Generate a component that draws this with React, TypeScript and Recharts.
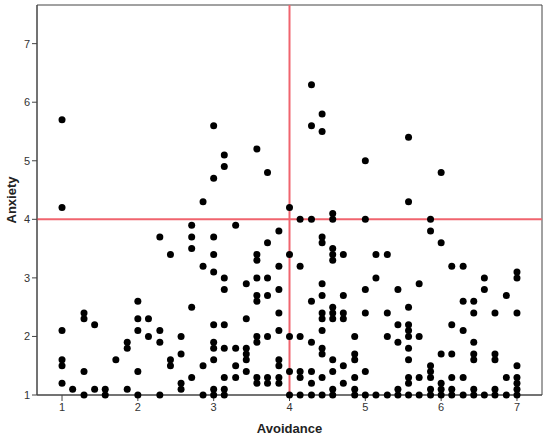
import { ScatterChart, Scatter, XAxis, YAxis, ReferenceLine, ReferenceArea } from 'recharts';

// avoidance scores (columns of the scatter, steps of 1/7)
const avoidance = [
  1, 1.14, 1.29, 1.43, 1.57, 1.71, 1.86, 2, 2.14, 2.29, 2.43, 2.57, 2.71, 2.86,
  3, 3.14, 3.29, 3.43, 3.57, 3.71, 3.86, 4, 4.14, 4.29, 4.43, 4.57, 4.71, 4.86,
  5, 5.14, 5.29, 5.43, 5.57, 5.71, 5.86, 6, 6.14, 6.29, 6.43, 6.57, 6.71, 6.86, 7,
];

// anxiety scores observed at each avoidance column
const anxiety: number[][] = [
  [5.7, 4.2, 2.1, 1.6, 1.5, 1.2],
  [1.1],
  [2.4, 2.3, 1.4, 1.0],
  [2.2, 1.1],
  [1.1, 1.0],
  [1.6],
  [1.9, 1.8, 1.1],
  [2.6, 2.3, 2.1, 1.4, 1.0],
  [2.3, 2.0],
  [3.7, 2.1, 1.9, 1.0],
  [3.4, 1.6, 1.5],
  [2.0, 1.7, 1.2, 1.1],
  [3.9, 3.7, 3.5, 2.5, 1.3],
  [4.3, 3.2, 1.5, 1.0],
  [5.6, 4.7, 3.7, 3.4, 3.1, 2.2, 1.9, 1.8, 1.6, 1.1, 1.0],
  [5.1, 4.9, 3.0, 2.8, 2.2, 1.8, 1.3, 1.1, 1.0],
  [3.9, 1.8, 1.5, 1.3],
  [2.9, 2.3, 1.8, 1.7, 1.6, 1.4],
  [5.2, 3.4, 3.3, 3.0, 2.7, 2.6, 2.0, 1.9, 1.3, 1.2],
  [4.8, 3.6, 3.0, 2.7, 2.0, 1.3, 1.2],
  [3.8, 3.2, 2.8, 2.4, 2.1, 1.6, 1.5, 1.3, 1.2],
  [4.2, 3.4, 2.0, 1.4, 1.0],
  [4.0, 3.2, 2.0, 1.4, 1.3, 1.0],
  [6.3, 5.6, 4.0, 2.6, 1.9, 1.4, 1.2, 1.0],
  [5.8, 5.5, 3.7, 3.6, 2.9, 2.7, 2.4, 2.3, 2.1, 1.8, 1.7, 1.3, 1.0],
  [4.1, 4.0, 3.5, 3.4, 3.3, 2.5, 2.4, 2.3, 1.6, 1.4, 1.1, 1.0],
  [3.4, 2.7, 2.4, 2.3, 1.5, 1.2],
  [2.0, 1.7, 1.6, 1.3, 1.1, 1.0],
  [5.0, 4.0, 2.8, 2.4, 1.4, 1.0],
  [3.4, 3.0, 1.0],
  [3.4, 2.4, 2.0, 1.0],
  [2.8, 2.2, 1.9, 1.1, 1.0],
  [5.4, 4.3, 2.5, 2.2, 2.1, 2.0, 1.8, 1.6, 1.3, 1.2, 1.0],
  [2.9, 2.0, 1.3, 1.0],
  [4.0, 3.8, 1.5, 1.4, 1.3, 1.1, 1.0],
  [4.8, 3.6, 1.7, 1.2, 1.1, 1.0],
  [3.2, 2.2, 1.7, 1.3, 1.1, 1.0],
  [3.2, 2.6, 2.1, 1.3, 1.0],
  [2.6, 2.4, 1.9, 1.7, 1.6, 1.1, 1.0],
  [3.0, 2.8, 1.0],
  [2.4, 1.7, 1.6, 1.1, 1.0],
  [2.7, 1.3, 1.0],
  [3.1, 3.0, 2.4, 1.5, 1.3, 1.2, 1.1, 1.0],
];

const ticks = [1, 2, 3, 4, 5, 6, 7];
const cutoff = 4;

const points = avoidance.flatMap((x, i) => anxiety[i].map((y) => ({ avoidance: x, anxiety: y })));

const FONT = '"Liberation Sans", Arial, sans-serif';
const AXIS = '#444';
const RED = '#f0646e';

function Dot(props: any) {
  return <circle cx={props.cx} cy={props.cy} r={3.5} fill="#000" />;
}

export default function App() {
  return (
    <div style={{ width: 550, height: 440, background: '#fff', fontFamily: FONT }}>
      <style>{'body{margin:0}'}</style>
      <ScatterChart width={550} height={440} margin={{ top: 5, right: 8, bottom: 0, left: 0 }}>
        <ReferenceArea x1={0.67} x2={7.33} y1={1} y2={7.66} fill="none" stroke={AXIS} strokeWidth={1} />
        <XAxis
          type="number"
          dataKey="avoidance"
          domain={[0.67, 7.33]}
          ticks={ticks}
          height={45}
          tickSize={6}
          tickMargin={2}
          stroke={AXIS}
          tick={{ fontSize: 11, fill: '#333', fontFamily: FONT }}
          label={{
            value: 'Avoidance',
            position: 'insideBottom',
            offset: 7,
            style: { fontSize: 13, fontWeight: 'bold', fill: '#222', fontFamily: FONT },
          }}
        />
        <YAxis
          type="number"
          dataKey="anxiety"
          domain={[1, 7.66]}
          ticks={ticks}
          width={37}
          tickSize={5}
          tickMargin={2}
          stroke={AXIS}
          tick={{ fontSize: 11, fill: '#333', fontFamily: FONT }}
          label={{
            value: 'Anxiety',
            angle: -90,
            position: 'insideLeft',
            offset: 11,
            style: { fontSize: 13, fontWeight: 'bold', fill: '#222', textAnchor: 'middle', fontFamily: FONT },
          }}
        />
        <ReferenceLine y={cutoff} stroke={RED} strokeWidth={2} />
        <ReferenceLine x={cutoff} stroke={RED} strokeWidth={2} />
        <Scatter data={points} shape={Dot} isAnimationActive={false} />
      </ScatterChart>
    </div>
  );
}
